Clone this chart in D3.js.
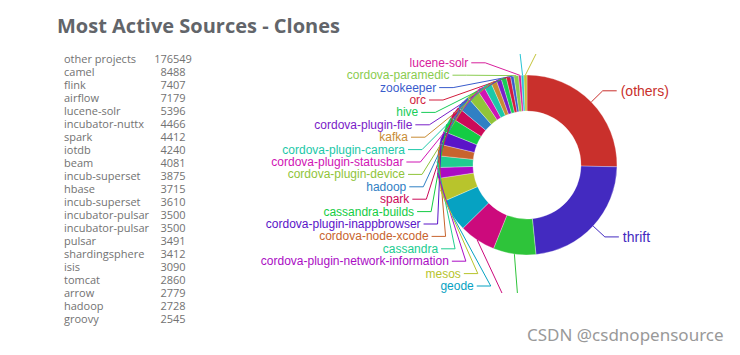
<!DOCTYPE html>
<html>
<head>
<meta charset="utf-8">
<script src="https://cdn.jsdelivr.net/npm/d3@7"></script>
<style>
  body { margin: 0; background: #fff; }
  svg { display: block; }
</style>
</head>
<body>
<svg id="clones-chart" width="740" height="355"></svg>
<script>
// left table
const tableNames = [
  "other projects", "camel", "flink", "airflow", "lucene-solr",
  "incubator-nuttx", "spark", "iotdb", "beam", "incub-superset",
  "hbase", "incub-superset", "incubator-pulsar", "incubator-pulsar",
  "pulsar", "shardingsphere", "isis", "tomcat", "arrow", "hadoop", "groovy",
];
const tableValues = [
  176549, 8488, 7407, 7179, 5396, 4466, 4412, 4240, 4081, 3875,
  3715, 3610, 3500, 3500, 3491, 3412, 3090, 2860, 2779, 2728, 2545,
];

// donut slices, clockwise from 12 o'clock
const sliceNames = [
  "(others)", "thrift", "cordova-android", "cordova-ios", "geode", "mesos",
  "cordova-plugin-network-information", "cassandra", "cordova-node-xcode",
  "cordova-plugin-inappbrowser", "cassandra-builds", "spark", "hadoop",
  "cordova-plugin-device", "cordova-plugin-statusbar", "cordova-plugin-camera",
  "kafka", "cordova-plugin-file", "hive", "orc", "zookeeper",
  "cordova-paramedic", "lucene-solr", "avro", "nifi",
];
const sliceValues = [
  9100, 8300, 2750, 2350, 2100, 1500, 700, 750, 750, 850, 1000, 800, 870,
  770, 470, 520, 370, 330, 330, 280, 210, 300, 170, 170, 200,
];
const sliceColors = [
  "#c9302c", "#432ac0", "#2ec43a", "#cc0a7c", "#06a2c2", "#b8c42c",
  "#aa0cc4", "#20cc90", "#c8642e", "#5a14c8", "#14cc44", "#cc0a58",
  "#3080c4", "#90c43a", "#d014b4", "#1cc8a8", "#c88c34", "#7a20c8",
  "#18cc58", "#d21c3c", "#3a5ccc", "#8acc50", "#d8209c", "#28c4d4",
  "#c4c43a",
];

const svg = d3.select("#clones-chart");

// title
svg
  .append("text")
  .attr("x", 57)
  .attr("y", 32.5)
  .style("font-family", "'Open Sans', sans-serif")
  .style("font-weight", 700)
  .style("font-size", "20px")
  .attr("fill", "#62656a")
  .text("Most Active Sources - Clones");

// table rows
const rowScale = d3
  .scaleLinear()
  .domain([0, tableNames.length - 1])
  .range([58.3, 318]);

const rows = svg
  .append("g")
  .style("font-family", "'Open Sans', sans-serif")
  .style("font-size", "11px")
  .attr("fill", "#727272");

rows
  .selectAll(".row-name")
  .data(tableNames)
  .join("text")
  .attr("class", "row-name")
  .attr("x", 64)
  .attr("y", (d, i) => rowScale(i))
  .attr("dominant-baseline", "central")
  .text((d) => d);

rows
  .selectAll(".row-value")
  .data(tableValues)
  .join("text")
  .attr("class", "row-value")
  .attr("x", 173)
  .attr("y", (d, i) => rowScale(i))
  .attr("text-anchor", "middle")
  .attr("dominant-baseline", "central")
  .text((d) => d);

// donut
const cx = 527;
const cy = 165;
const outerR = 90;
const innerR = 54;

svg
  .append("clipPath")
  .attr("id", "chart-clip")
  .append("rect")
  .attr("x", 250)
  .attr("y", 54)
  .attr("width", 480)
  .attr("height", 239);

const chart = svg.append("g").attr("clip-path", "url(#chart-clip)");
const donut = chart.append("g").attr("transform", `translate(${cx},${cy})`);

const slices = sliceNames.map((name, i) => ({
  name,
  value: sliceValues[i],
  color: sliceColors[i],
}));

const pie = d3.pie().sort(null).value((d) => d.value);
const arc = d3.arc().innerRadius(innerR).outerRadius(outerR);
const arcs = pie(slices);

donut
  .selectAll("path")
  .data(arcs)
  .join("path")
  .attr("d", arc)
  .attr("fill", (d) => d.data.color)
  .attr("stroke", "#fff")
  .attr("stroke-width", 0.5)
  .attr("stroke-opacity", 0.6);

const midAngle = (d) => (d.startAngle + d.endAngle) / 2;
const polar = (a, r) => [r * Math.sin(a), -r * Math.cos(a)];

// right side labels
const rightArcs = arcs.filter((d) => midAngle(d) < Math.PI);
rightArcs.forEach((d) => {
  const a = midAngle(d);
  const p0 = polar(a, outerR);
  const p1 = polar(a, 106);
  const p2 = [p1[0] + 14, p1[1]];
  donut
    .append("polyline")
    .attr("points", [p0, p1, p2].map((p) => p.join(",")).join(" "))
    .attr("fill", "none")
    .attr("stroke", d.data.color)
    .attr("stroke-width", 1);
  donut
    .append("text")
    .attr("x", p2[0] + 4)
    .attr("y", p2[1])
    .attr("dominant-baseline", "central")
    .style("font-family", "Arial, 'Liberation Sans', sans-serif")
    .style("font-size", "14px")
    .attr("fill", d.data.color)
    .text(d.data.name);
});

// left side labels, stacked in a column
const leftArcs = arcs
  .filter((d) => midAngle(d) >= Math.PI)
  .sort((a, b) => midAngle(b) - midAngle(a));

const labelTop = -127;
const labelStep = 12.4;

leftArcs.forEach((d, k) => {
  const a = midAngle(d);
  const y = labelTop + k * labelStep;
  const dy = y - 7;
  const dx =
    dy < 0
      ? Math.sqrt(Math.max(0, 124 * 124 - dy * dy))
      : 122 * Math.cos((Math.min(1, dy / 160) * Math.PI) / 2);
  const xEnd = -dx;
  const p0 = polar(a, outerR);
  const p1 = [xEnd + 17, y];
  const p2 = [xEnd + 3, y];
  donut
    .append("polyline")
    .attr("points", [p0, p1, p2].map((p) => p.join(",")).join(" "))
    .attr("fill", "none")
    .attr("stroke", d.data.color)
    .attr("stroke-width", 1);
  donut
    .append("text")
    .attr("x", xEnd)
    .attr("y", y)
    .attr("text-anchor", "end")
    .attr("dominant-baseline", "central")
    .style("font-family", "Arial, 'Liberation Sans', sans-serif")
    .style("font-size", "12px")
    .attr("fill", d.data.color)
    .text(d.data.name);
});

// watermark
svg
  .append("text")
  .attr("x", 527)
  .attr("y", 340.5)
  .style("font-family", "'Noto Sans', sans-serif")
  .style("font-size", "17px")
  .attr("fill", "#999")
  .text("CSDN @csdnopensource");
</script>
</body>
</html>
